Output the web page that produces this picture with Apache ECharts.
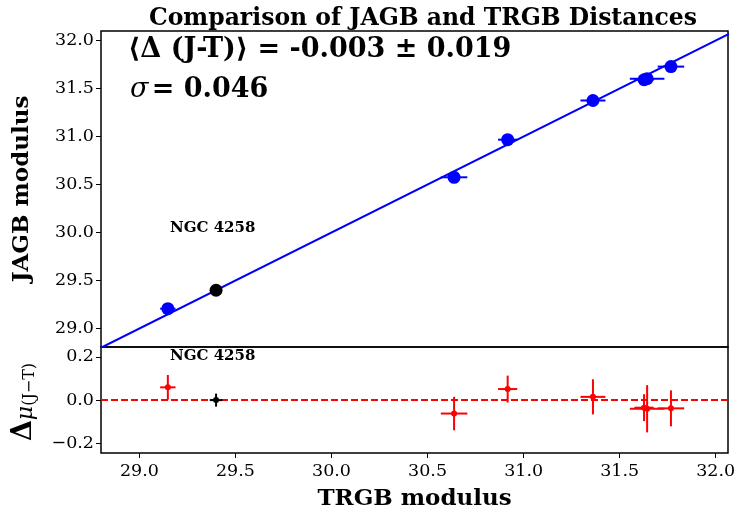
<!DOCTYPE html>
<html>
<head>
<meta charset="utf-8">
<script src="https://cdn.jsdelivr.net/npm/echarts@6/dist/echarts.min.js"></script>
<style>
  html, body { margin: 0; padding: 0; background: #fff; }
  #chart { width: 734px; height: 515px; }
</style>
</head>
<body>
<div id="chart"></div>
<script>
// galaxies with both distances (TRGB on x, JAGB on y)
const trgb     = [29.148, 30.638, 30.917, 31.361, 31.627, 31.643, 31.767];
const trgbErr  = [0.040, 0.069, 0.050, 0.065, 0.050, 0.090, 0.069];
const jagb     = [29.207, 30.576, 30.968, 31.376, 31.592, 31.603, 31.729];
const delta    = [0.059, -0.062, 0.051, 0.015, -0.035, -0.040, -0.038];
const deltaErr = [0.057, 0.077, 0.062, 0.081, 0.062, 0.109, 0.083];

// anchor galaxy NGC 4258
const anchorTrgb = [29.399];
const anchorTrgbErr = [0.033];
const anchorJagb = [29.399];
const anchorDelta = [0.0];
const anchorDeltaErr = [0.030];

// one-to-one line, tick labels
const oneToOne = [28.8, 32.1];
const xTicks = [29.0, 29.5, 30.0, 30.5, 31.0, 31.5, 32.0];
const yTicks = [29.0, 29.5, 30.0, 30.5, 31.0, 31.5, 32.0];
const dTicks = [-0.2, 0.0, 0.2];

const SERIF = '"DejaVu Serif", "Liberation Serif", serif';

function errBars(color, width) {
  return function (params, api) {
    const x = api.value(0), y = api.value(1), xe = api.value(2), ye = api.value(3);
    const l = api.coord([x - xe, y]), r = api.coord([x + xe, y]);
    const t = api.coord([x, y + ye]), b = api.coord([x, y - ye]);
    const style = { stroke: color, lineWidth: width };
    const kids = [{ type: 'line', shape: { x1: l[0], y1: l[1], x2: r[0], y2: r[1] }, style: style }];
    if (ye > 0) kids.push({ type: 'line', shape: { x1: t[0], y1: t[1], x2: b[0], y2: b[1] }, style: style });
    return { type: 'group', children: kids };
  };
}

const fmt = v => (v < 0 ? '\u2212' : '') + Math.abs(v).toFixed(1);
const tickLabel = { formatter: fmt, fontFamily: SERIF, fontSize: 17.5, color: '#000' };
const nameStyle = { fontFamily: SERIF, fontWeight: 'bold', fontSize: 23, color: '#000' };

const chart = echarts.init(document.getElementById('chart'));
chart.setOption({
  animation: false,
  title: {
    text: 'Comparison of JAGB and TRGB Distances',
    left: 418, top: 2, textAlign: 'center',
    textStyle: { fontFamily: SERIF, fontWeight: 'bold', fontSize: 23.5, color: '#000' }
  },
  grid: [
    { left: 101, right: 6, top: 31, height: 316, show: true, borderColor: '#000', borderWidth: 1.5,
      outerBoundsMode: 'none', containLabel: false },
    { left: 101, right: 6, top: 347, height: 106, show: true, borderColor: '#000', borderWidth: 1.5,
      outerBoundsMode: 'none', containLabel: false }
  ],
  xAxis: [
    {
      gridIndex: 0, type: 'value', min: 28.8, max: 32.064,
      axisLine: { show: false, onZero: false }, axisTick: { show: false }, axisLabel: { show: false },
      splitLine: { show: false }
    },
    {
      gridIndex: 1, type: 'value', min: 28.8, max: 32.064,
      name: 'TRGB modulus', nameLocation: 'middle', nameGap: 35, nameTextStyle: nameStyle,
      axisLine: { show: false, onZero: false },
      axisTick: { show: true, length: 5, customValues: xTicks, lineStyle: { color: '#000', width: 1 } },
      axisLabel: Object.assign({ customValues: xTicks, margin: 9 }, tickLabel),
      splitLine: { show: false }
    }
  ],
  yAxis: [
    {
      gridIndex: 0, type: 'value', min: 28.808, max: 32.1,
      name: 'JAGB modulus', nameLocation: 'middle', nameGap: 67, nameTextStyle: nameStyle,
      axisLine: { show: false, onZero: false },
      axisTick: { show: true, length: 5, customValues: yTicks, lineStyle: { color: '#000', width: 1 } },
      axisLabel: Object.assign({ customValues: yTicks, margin: 7 }, tickLabel),
      splitLine: { show: false }
    },
    {
      gridIndex: 1, type: 'value', min: -0.244, max: 0.245,
      axisLine: { show: false, onZero: false },
      axisTick: { show: true, length: 5, customValues: dTicks, lineStyle: { color: '#000', width: 1 } },
      axisLabel: Object.assign({ customValues: dTicks, margin: 7 }, tickLabel),
      splitLine: { show: false }
    }
  ],
  series: [
    {
      type: 'line', xAxisIndex: 0, yAxisIndex: 0, clip: true,
      data: oneToOne.map(v => [v, v]), symbol: 'none',
      lineStyle: { color: '#0000ff', width: 2 }, z: 2
    },
    {
      type: 'custom', xAxisIndex: 0, yAxisIndex: 0,
      renderItem: errBars('#0000ff', 2),
      data: trgb.map((x, i) => [x, jagb[i], trgbErr[i], 0]), z: 3
    },
    {
      type: 'scatter', xAxisIndex: 0, yAxisIndex: 0, symbolSize: 13,
      itemStyle: { color: '#0000ff', opacity: 1 },
      data: trgb.map((x, i) => [x, jagb[i]]), z: 4
    },
    {
      type: 'scatter', xAxisIndex: 0, yAxisIndex: 0, symbolSize: 13,
      itemStyle: { color: '#000', opacity: 1 },
      data: anchorTrgb.map((x, i) => [x, anchorJagb[i]]), z: 4
    },
    {
      type: 'custom', xAxisIndex: 1, yAxisIndex: 1,
      renderItem: errBars('#ff0000', 2),
      data: trgb.map((x, i) => [x, delta[i], trgbErr[i], deltaErr[i]]), z: 3,
      markLine: {
        silent: true, symbol: 'none', label: { show: false },
        lineStyle: { color: '#ff0000', type: [7, 3], width: 2 },
        data: [{ yAxis: 0 }]
      }
    },
    {
      type: 'scatter', xAxisIndex: 1, yAxisIndex: 1, symbolSize: 6,
      itemStyle: { color: '#ff0000', opacity: 1 },
      data: trgb.map((x, i) => [x, delta[i]]), z: 4
    },
    {
      type: 'custom', xAxisIndex: 1, yAxisIndex: 1,
      renderItem: errBars('#000', 2),
      data: anchorTrgb.map((x, i) => [x, anchorDelta[i], anchorTrgbErr[i], anchorDeltaErr[i]]), z: 5
    },
    {
      type: 'scatter', xAxisIndex: 1, yAxisIndex: 1, symbolSize: 6,
      itemStyle: { color: '#000', opacity: 1 },
      data: anchorTrgb.map((x, i) => [x, anchorDelta[i]]), z: 6
    }
  ],
  graphic: [
    {
      type: 'text', left: 128, top: 36,
      style: { text: '\u27E8\u0394 (J-T)\u27E9 = -0.003 \u00B1 0.019', fill: '#000',
        font: 'bold 27px ' + SERIF }
    },
    {
      type: 'text', left: 130, top: 76,
      style: {
        text: '{i|\u03C3} {b|= 0.046}', fill: '#000',
        rich: {
          i: { fontFamily: SERIF, fontStyle: 'italic', fontSize: 27, fill: '#000' },
          b: { fontFamily: SERIF, fontWeight: 'bold', fontSize: 27, fill: '#000' }
        }
      }
    },
    {
      type: 'text', left: 170, top: 221,
      style: { text: 'NGC 4258', fill: '#000', font: 'bold 15px ' + SERIF }
    },
    {
      type: 'text', left: 170, top: 349,
      style: { text: 'NGC 4258', fill: '#000', font: 'bold 15px ' + SERIF }
    },
    {
      type: 'text', x: 24, y: 402, rotation: Math.PI / 2,
      style: {
        text: '{a|\u0394}{m|\u03BC}{s|(J\u2212T)}', align: 'center', verticalAlign: 'middle',
        rich: {
          a: { fontFamily: SERIF, fontWeight: 'bold', fontSize: 27, fill: '#000', verticalAlign: 'bottom' },
          m: { fontFamily: SERIF, fontStyle: 'italic', fontSize: 22, fill: '#000', verticalAlign: 'bottom' },
          s: { fontFamily: SERIF, fontSize: 16, fill: '#000', verticalAlign: 'bottom', padding: [10, 0, 0, 0] }
        }
      }
    }
  ]
});
</script>
</body>
</html>
